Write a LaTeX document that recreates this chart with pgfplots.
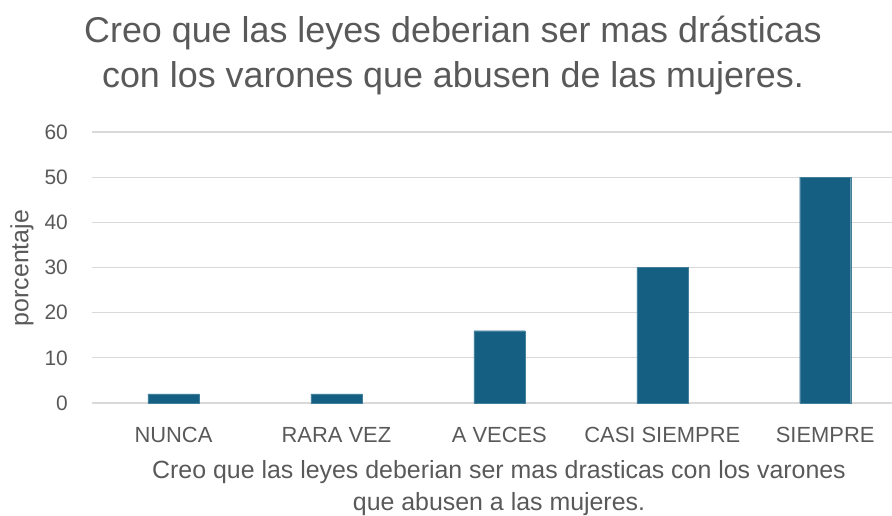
\documentclass[border=0pt]{standalone}
\usepackage{pgfplots}
\pgfplotsset{compat=1.18}
\usepackage{fontspec}
\setmainfont{Liberation Sans}
\definecolor{barc}{HTML}{156082}
\definecolor{txt}{HTML}{595959}
\definecolor{gridc}{HTML}{D9D9D9}
\begin{document}
\begin{tikzpicture}[x=1bp,y=1bp]
\begin{axis}[
  at={(0,0)}, anchor=south west,
  scale only axis, width=800bp, height=271bp,
  xmin=-0.5, xmax=4.41, ymin=0, ymax=60,
  ytick={0,10,...,60},
  xtick={0,1,2,3,4},
  xticklabels={NUNCA, RARA VEZ, A VECES, CASI SIEMPRE, SIEMPRE},
  axis line style={draw=none},
  major tick length=0pt,
  ymajorgrids, grid style={gridc, line width=1.2bp},
  /pgf/number format/assume math mode=true,
  yticklabel style={font=\fontsize{21}{24}\selectfont, text=txt, anchor=east, inner sep=0pt, xshift=-24bp},
  xticklabel style={font=\fontsize{22}{25}\selectfont, text=txt, anchor=base, inner sep=0pt, yshift=-39bp},
  clip=false,
]
\addplot[ybar, bar width=51bp, fill=barc, draw=barc!80!white] coordinates {(0,2) (1,2) (2,16) (3,30) (4,50)};
\end{axis}
\node[rotate=90, text=txt, font=\fontsize{25}{28}\selectfont] at (-70bp,135bp) {porcentaje};
\node[anchor=base, text=txt, font=\fontsize{36}{40}\selectfont] at (361bp,360bp) {Creo que las leyes deberian ser mas drásticas};
\node[anchor=base, text=txt, font=\fontsize{36}{40}\selectfont] at (361bp,315bp) {con los varones que abusen de las mujeres.};
\node[anchor=base, text=txt, font=\fontsize{25}{28}\selectfont] at (407bp,-75bp) {Creo que las leyes deberian ser mas drasticas con los varones};
\node[anchor=base, text=txt, font=\fontsize{25}{28}\selectfont] at (407bp,-107bp) {que abusen a las mujeres.};
\pgfresetboundingbox
\useasboundingbox (-92bp,-113bp) rectangle (800bp,403bp);
\end{tikzpicture}
\end{document}
